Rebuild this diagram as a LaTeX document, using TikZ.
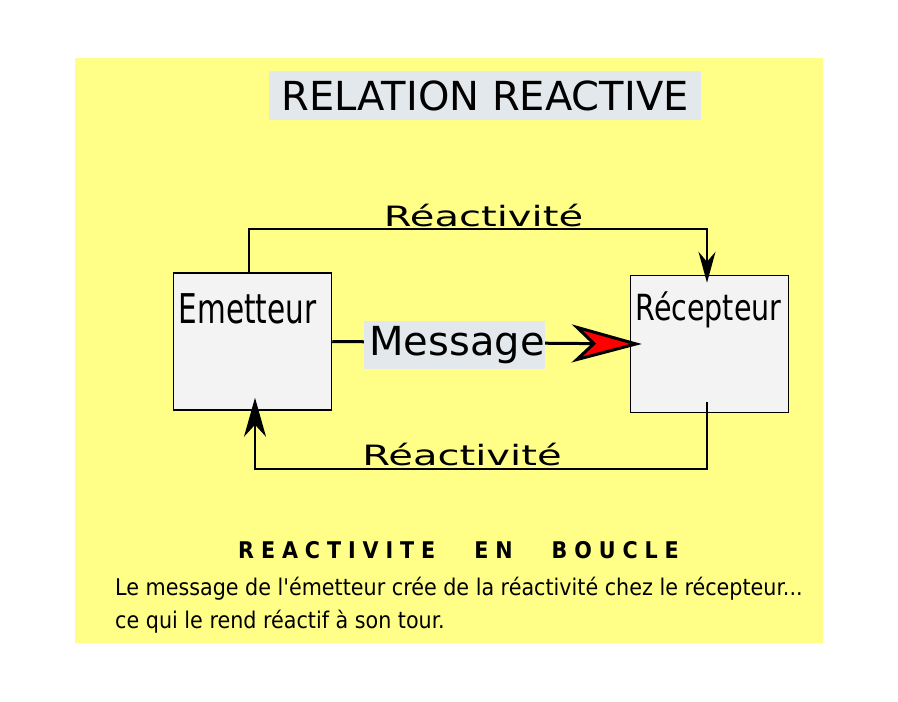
\documentclass[tikz,border=0pt]{standalone}
\usepackage{fontspec}
\setmainfont{DejaVu Sans}
\newfontfamily\etroite[BoldFont={DejaVu Sans Condensed Bold}]{DejaVu Sans Condensed}
\usetikzlibrary{arrows.meta}
\definecolor{fondjaune}{RGB}{255,255,136}
\definecolor{grisbleu}{RGB}{226,232,236}
\definecolor{grisboite}{RGB}{243,243,243}

\begin{document}
\begin{tikzpicture}[x=1pt,y=-1pt,
    boite/.style={draw=black,line width=1.5pt,fill=grisboite,
        minimum width=158pt,minimum height=137pt,inner sep=0pt},
    reac/.style={line width=2pt},
    etiq/.style={fill=grisbleu,inner sep=0pt}]
    \useasboundingbox (0,0) rectangle (898,702);
    % Fond jaune
    \fill[fondjaune] (75,58) rectangle (823,643);

    % Titre
    \node[etiq,minimum width=432pt,minimum height=49pt] (titre) at (485,95.5)
        {\fontsize{40}{48}\selectfont RELATION REACTIVE};

    % Emetteur et recepteur
    \node[boite] (emet) at (252.5,341.5) {};
    \node[boite] (recep) at (709.5,344) {};
    \node[anchor=base,inner sep=0pt] (emet-txt) at (247.5,323)
        {\scalebox{0.8}[1]{\etroite\fontsize{41}{49}\selectfont Emetteur}};
    \node[anchor=base,inner sep=0pt] (recep-txt) at (708.5,320)
        {\scalebox{0.88}[1]{\etroite\fontsize{36}{43}\selectfont Récepteur}};

    % Message
    \draw[line width=3pt,-{Stealth[length=70pt,width=38pt,inset=20pt,fill=red]}]
        (emet.east) -- node[etiq,pos=0.395,yshift=-3pt,minimum height=48pt] (msg)
        {\fontsize{40}{48}\selectfont\hspace{5pt}Message} ([xshift=12pt]recep.west);

    % Reactivite (haut)
    \draw[reac,-{Stealth[length=31pt,width=17pt,inset=10pt]}]
        ([xshift=-3.5pt]emet.north) -- ++(0,-43) -| ([xshift=-2.5pt,yshift=-8pt]recep.north);
    \node[anchor=base,inner sep=0pt] (reac-haut) at (483.5,226)
        {\scalebox{1.43}[1]{\fontsize{28}{34}\selectfont Réactivité}};

    % Reactivite (bas)
    \draw[reac,-{Stealth[length=39pt,width=22pt,inset=12pt]}]
        ([xshift=-2.5pt,yshift=11pt]recep.south) -- ++(0,67) -| ([xshift=2.5pt,yshift=13pt]emet.south);
    \node[anchor=base,inner sep=0pt] (reac-bas) at (462,465)
        {\scalebox{1.43}[1]{\fontsize{28}{34}\selectfont Réactivité}};

    % Texte du bas
    \node[anchor=base west,inner sep=0pt] (boucle) at (238,558)
        {\etroite\bfseries\fontsize{23}{28}\selectfont\addfontfeature{LetterSpace=30}%
        REACTIVITE\hspace{39pt}EN\hspace{39pt}BOUCLE};
    \node[anchor=base west,inner sep=0pt] (ligne1) at (115,595)
        {\etroite\fontsize{23}{28}\selectfont Le message de l'émetteur crée de la réactivité chez le récepteur...};
    \node[anchor=base west,inner sep=0pt] (ligne2) at (115,628)
        {\etroite\fontsize{23}{28}\selectfont ce qui le rend réactif à son tour.};
\end{tikzpicture}
\end{document}
